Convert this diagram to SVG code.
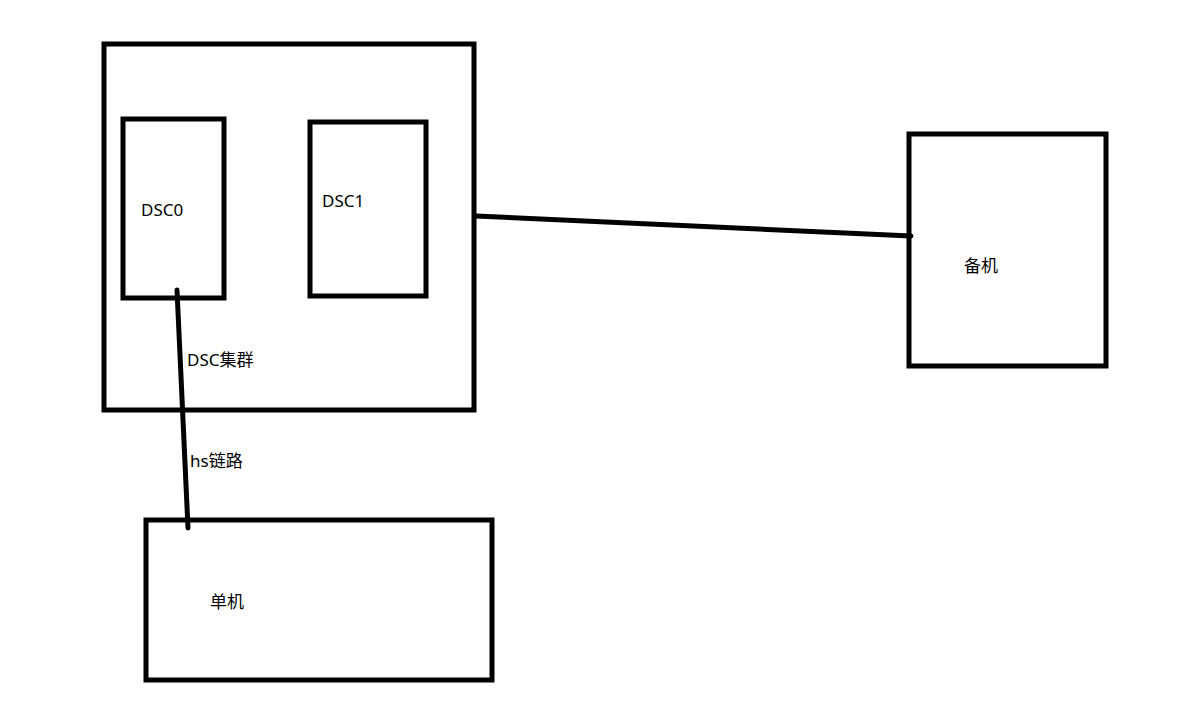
<svg xmlns="http://www.w3.org/2000/svg" width="1201" height="713" viewBox="0 0 1201 713">
<style>
.box{fill:none;stroke:#000;stroke-width:5}
.ln{stroke:#000;stroke-width:5;stroke-linecap:round;fill:none}
text{font-family:"Noto Sans","Noto Sans CJK SC",sans-serif;font-size:17px;fill:#000}
</style>
<rect width="1201" height="713" fill="#fff"/>
<g id="cluster"><rect class="box" x="104" y="44" width="370" height="366"/><text x="187" y="366">DSC集群</text></g>
<g id="dsc0"><rect class="box" x="123" y="119" width="101" height="179"/><text x="141" y="216">DSC0</text></g>
<g id="dsc1"><rect class="box" x="310" y="122" width="116" height="174"/><text x="322" y="207">DSC1</text></g>
<g id="standby"><rect class="box" x="909" y="134" width="197" height="232"/><text x="964" y="272">备机</text></g>
<g id="single"><rect class="box" x="146" y="520" width="346" height="160"/><text x="210" y="608">单机</text></g>
<g id="connectors">
<line class="ln" x1="177" y1="290" x2="188" y2="528"/>
<line class="ln" x1="476" y1="216" x2="911" y2="236"/>
<text x="190" y="467">hs链路</text>
</g>
</svg>
